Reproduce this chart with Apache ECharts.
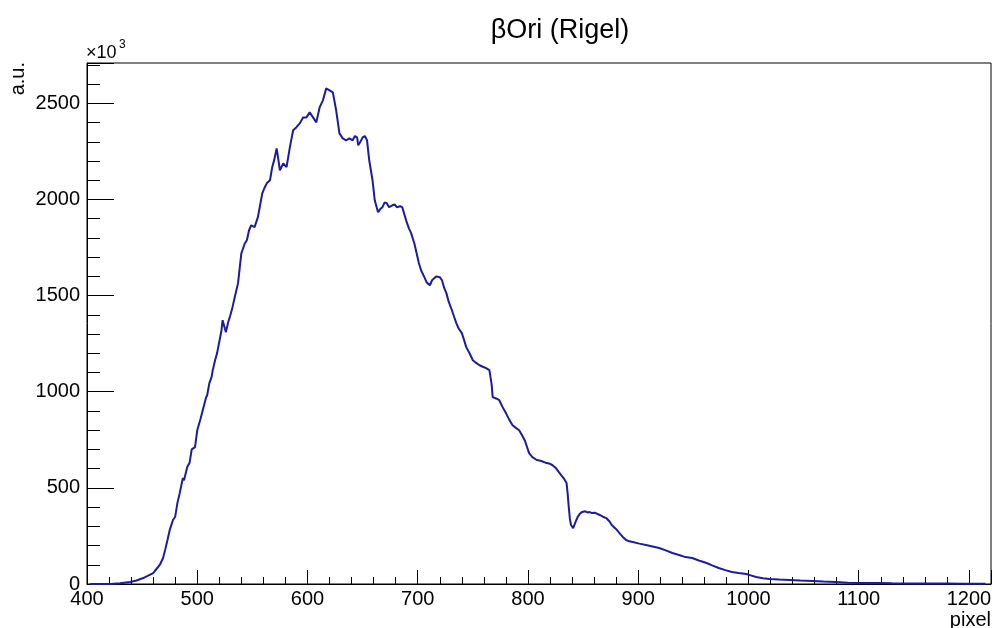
<!DOCTYPE html>
<html>
<head>
<meta charset="utf-8">
<script src="https://cdn.jsdelivr.net/npm/echarts@6/dist/echarts.min.js"></script>
<style>
html,body{margin:0;padding:0;background:#fff;}
#chart{width:992px;height:628px;}
</style>
</head>
<body>
<div id="chart"></div>
<script>
// Spectrum of beta Ori (Rigel): pixel position vs intensity (a.u., x10^3)
const pixelX = [403,421,430,439,445,451,455,460,463,466,469,471,473,475,478,480,482,484,486,487,488,491,493,495,498,500,503,505,508,509,511,513,514,516,518,520,522,523,525,526,528,530,532,534,537,539,540,541,543,545,547,549,552,555,557,559,561,563,566,568,570,572,573,575,578,581,584,587,590,593,596,599,602,605,608,611,614,617,620,623,626,629,632,635,638,641,643,645,646,648,650,652,654,656,659,661,664,666,668,670,672,674,677,679,681,684,686,688,690,692,694,697,699,701,703,706,708,711,713,715,717,720,722,724,726,728,731,733,735,737,740,742,744,747,750,753,756,759,762,765,767,768,771,774,777,780,783,786,789,792,795,797,799,801,804,808,812,817,820,822,825,828,831,833,835,836,837,838,839,841,843,845,847,849,852,854,856,858,861,865,868,871,874,876,880,883,886,889,892,895,901,907,913,919,925,931,937,943,949,955,962,967,973,979,985,991,998,1002,1007,1013,1019,1028,1037,1047,1058,1068,1079,1090,1100,1110,1118,1130,1148,1165,1179,1195,1215];
const intensity = [0,0,4,10,18,31,42,57,78,99,135,180,229,280,333,350,421,470,525,551,540,610,629,700,712,800,860,904,970,982,1045,1076,1110,1160,1201,1260,1320,1372,1330,1310,1360,1398,1440,1492,1565,1669,1720,1736,1770,1788,1840,1866,1856,1908,1970,2032,2060,2084,2100,2168,2210,2266,2230,2152,2188,2168,2271,2360,2376,2396,2427,2427,2453,2427,2401,2479,2516,2578,2568,2557,2464,2344,2318,2308,2318,2308,2330,2323,2282,2300,2323,2330,2308,2204,2100,1996,1934,1950,1960,1985,1981,1960,1970,1975,1960,1965,1960,1920,1882,1850,1825,1770,1720,1670,1632,1596,1570,1554,1580,1591,1600,1596,1580,1540,1513,1470,1424,1390,1357,1330,1305,1270,1232,1200,1164,1150,1138,1130,1123,1112,1040,972,965,956,920,889,855,826,812,800,770,748,715,681,660,645,640,629,625,619,605,582,560,545,525,470,400,340,307,291,320,348,365,374,378,372,374,369,370,359,350,343,325,307,285,265,245,229,222,218,210,203,195,187,175,161,151,140,135,122,109,97,83,72,62,57,52,45,36,30,26,23,21,18,16,13,10,7,5,5,5,4,3,2,2,1,1];
const xMajorTicks = [400,500,600,700,800,900,1000,1100,1200];
const yMajorTicks = [0,500,1000,1500,2000,2500];

const X_MIN = 400, X_MAX = 1220, Y_MIN = 0, Y_MAX = 2710;
const FONT = 'Liberation Sans, Arial, Helvetica, sans-serif';

const chart = echarts.init(document.getElementById('chart'), null, {renderer:'canvas'});
const seriesData = pixelX.map((x,i)=>[x, intensity[i]]);

const lineBlack = {show:true, lineStyle:{color:'#000', width:1}};
chart.setOption({
  animation:false,
  backgroundColor:'#fff',
  grid:{left:87, right:1, top:63, bottom:44, show:true, borderColor:'#000', borderWidth:1, containLabel:false, outerBoundsMode:'none'},
  xAxis:[
    {type:'value', min:X_MIN, max:X_MAX, interval:100, position:'bottom',
     axisLine:lineBlack, splitLine:{show:false},
     axisTick:{show:true, inside:true, length:14, lineStyle:{color:'#000', width:1}},
     axisLabel:{show:true, margin:5, color:'#000', fontSize:20, fontFamily:FONT,
       formatter:v => xMajorTicks.includes(v) ? String(v) : ''}},
    {type:'value', min:X_MIN, max:X_MAX, interval:20, position:'bottom',
     axisLine:{show:false}, splitLine:{show:false},
     axisTick:{show:true, inside:true, length:7, lineStyle:{color:'#000', width:1}},
     axisLabel:{show:false}}
  ],
  yAxis:[
    {type:'value', min:Y_MIN, max:Y_MAX, interval:500, position:'left',
     axisLine:lineBlack, splitLine:{show:false},
     axisTick:{show:true, inside:true, length:27, lineStyle:{color:'#000', width:1}},
     axisLabel:{show:true, margin:7, color:'#000', fontSize:20, fontFamily:FONT,
       formatter:v => yMajorTicks.includes(v) ? String(v) : ''}},
    {type:'value', min:Y_MIN, max:Y_MAX, interval:100, position:'left',
     axisLine:{show:false}, splitLine:{show:false},
     axisTick:{show:true, inside:true, length:13, lineStyle:{color:'#000', width:1}},
     axisLabel:{show:false}}
  ],
  series:[{
    type:'line', xAxisIndex:0, yAxisIndex:0, showSymbol:false, symbol:'none',
    lineStyle:{color:'#1c1c9c', width:2}, data:seriesData, z:3
  }],
  graphic:[
    {type:'text', x:560, y:31, style:{text:'βOri (Rigel)', fontSize:27, fontFamily:FONT, fill:'#000', align:'center', verticalAlign:'middle'}},
    {type:'text', x:18, y:62, rotation:Math.PI/2, style:{text:'a.u.', fontSize:20, fontFamily:FONT, fill:'#000', align:'right', verticalAlign:'middle'}},
    {type:'text', x:86, y:53, style:{text:'×10', fontSize:18, fontFamily:FONT, fill:'#000', align:'left', verticalAlign:'middle'}},
    {type:'text', x:119, y:45, style:{text:'3', fontSize:12, fontFamily:FONT, fill:'#000', align:'left', verticalAlign:'middle'}},
    {type:'text', x:991, y:620, style:{text:'pixel', fontSize:20, fontFamily:FONT, fill:'#000', align:'right', verticalAlign:'middle'}}
  ]
});
</script>
</body>
</html>
